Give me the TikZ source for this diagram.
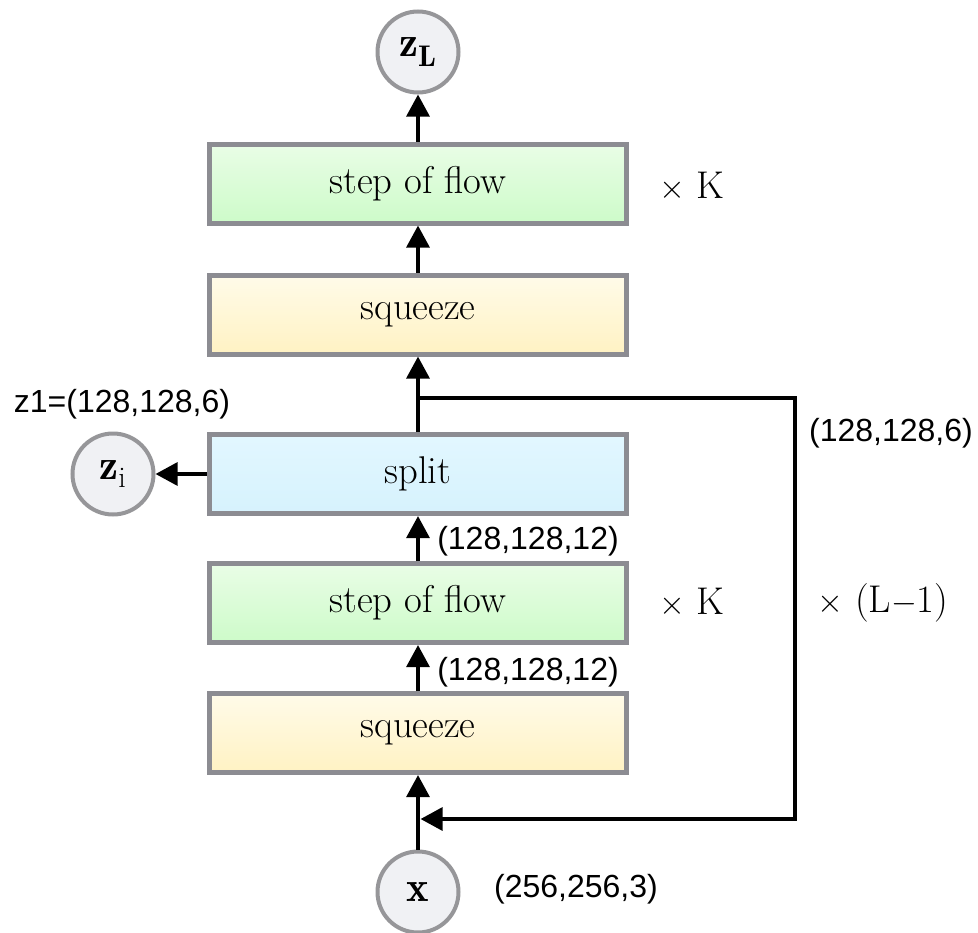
\documentclass[tikz,border=0pt]{standalone}
\usepackage{fontspec}
\newfontfamily\labfont{Liberation Sans}
\usetikzlibrary{arrows.meta}
\definecolor{boxborder}{RGB}{140,140,146}
\definecolor{greentop}{RGB}{233,253,230}
\definecolor{greenbot}{RGB}{205,251,201}
\definecolor{yellowtop}{RGB}{255,251,233}
\definecolor{yellowbot}{RGB}{255,242,195}
\definecolor{bluetop}{RGB}{226,247,255}
\definecolor{bluebot}{RGB}{214,242,253}
\definecolor{circfill}{RGB}{240,241,244}
\definecolor{circborder}{RGB}{150,150,153}
\begin{document}
\begin{tikzpicture}[x=0.75pt,y=-0.75pt,
  flowbox/.style={draw=boxborder, line width=3.75pt, minimum width=312.75pt,
    minimum height=59.25pt, inner sep=0pt, font=\fontsize{29}{34}\selectfont},
  greenbox/.style={flowbox, top color=greentop, bottom color=greenbot},
  yellowbox/.style={flowbox, top color=yellowtop, bottom color=yellowbot},
  bluebox/.style={flowbox, top color=bluetop, bottom color=bluebot},
  var/.style={circle, draw=circborder, line width=3pt, fill=circfill,
    minimum size=60.75pt, inner sep=0pt, font=\fontsize{32}{36}\selectfont},
  arr/.style={line width=3pt, -{Triangle[length=16.5pt,width=17pt]}},
  lab/.style={font=\labfont\fontsize{24}{28}\selectfont, inner sep=0pt},
  rep/.style={font=\fontsize{29}{34}\selectfont, inner sep=0pt},
]
\useasboundingbox (0,0) rectangle (978,932);

\node[var] (zL) at (418,52) {$\mathbf{z}_{\mathbf{L}}$};
\node[greenbox] (sof2) at (418,183.5) {step of flow};
\node[yellowbox] (sq2) at (418,314.5) {squeeze};
\node[bluebox] (split) at (418,474) {split};
\node[greenbox] (sof1) at (418,603) {step of flow};
\node[yellowbox] (sq1) at (418,733) {squeeze};
\node[var] (zi) at (113,474) {$\mathbf{z}_{\mathrm{i}}$};
\node[var] (x) at (418,892) {$\mathbf{x}$};

\draw[arr] (x.north) -- (sq1.south);
\draw[arr] (sq1.north) -- (sof1.south);
\draw[arr] (sof1.north) -- (split.south);
\draw[arr] (split.north) -- (sq2.south);
\draw[arr] (sq2.north) -- (sof2.south);
\draw[arr] (sof2.north) -- (zL.south);
\draw[arr] (split.west) -- (zi.east);

\coordinate (br) at (418,398);
\coordinate (lr) at (795,819);
\coordinate (in) at (420.5,819);
\draw[arr, line join=miter] (br) -| (lr) -- (in);

\node[rep] (k2) at (692,187) {$\times$ K};
\node[rep] (k1) at (692,603) {$\times$ K};
\node[rep] (kl) at (883,603) {$\times$ (L$-$1)};

\node[lab] (lz1) at (122,404) {z1=(128,128,6)};
\node[lab] (lloop) at (891,433) {(128,128,6)};
\node[lab] (l12a) at (528,541) {(128,128,12)};
\node[lab] (l12b) at (528,672) {(128,128,12)};
\node[lab] (lx) at (576,889) {(256,256,3)};
\end{tikzpicture}
\end{document}
